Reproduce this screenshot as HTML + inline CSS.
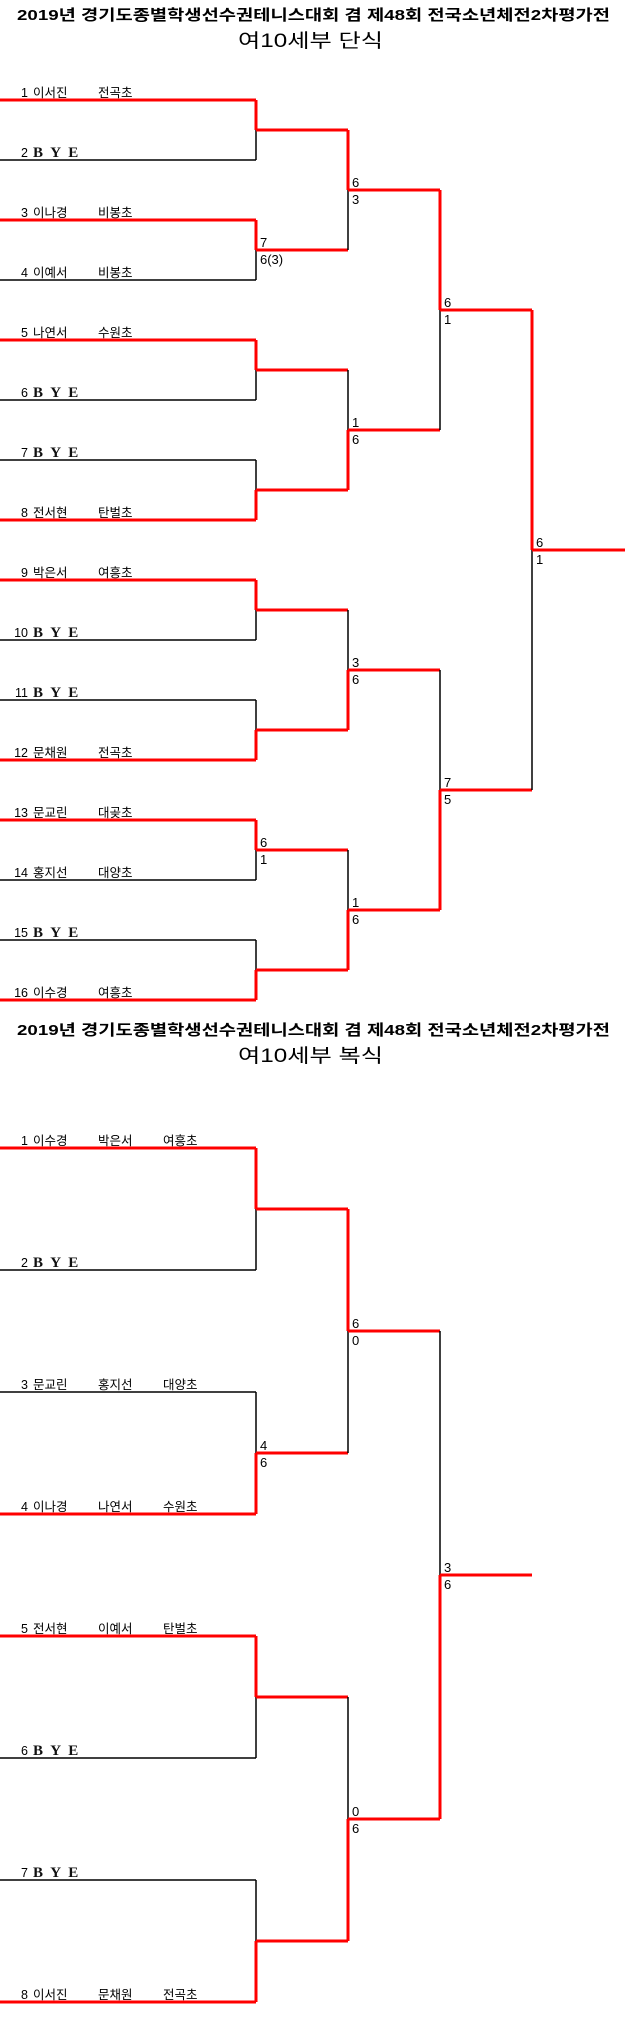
<!DOCTYPE html>
<html><head><meta charset="utf-8"><style>
html,body{margin:0;padding:0;background:#fff;}
svg{display:block;}
text{font-family:"Liberation Sans","Noto Sans CJK KR",sans-serif;fill:#000;}
.n{font-size:12.5px;}
.s{font-size:13px;}
.bye text{font-family:"Liberation Serif","Noto Serif CJK SC",serif;font-size:15px;font-weight:bold;letter-spacing:2px;fill:#111;}
.t1{font-size:15px;font-weight:bold;}
.t2{font-size:19px;}
.k{stroke:#000;stroke-width:1.5;fill:none;}
.r{stroke:#f00;stroke-width:3;fill:none;}
</style></head><body>
<svg width="625" height="2031" viewBox="0 0 625 2031" xmlns="http://www.w3.org/2000/svg">
<text class="t1" x="17" y="20" textLength="593" lengthAdjust="spacingAndGlyphs">2019년  경기도종별학생선수권테니스대회 겸 제48회 전국소년체전2차평가전</text>
<text class="t2" x="238" y="47" textLength="145" lengthAdjust="spacingAndGlyphs">여10세부  단식</text>

<path class="r" d="M0 100H256M0 220H256M0 340H256M0 520H256M0 580H256M0 760H256M0 820H256M0 1000H256"/>
<path class="k" d="M0 160H256M0 280H256M0 400H256M0 460H256M0 640H256M0 700H256M0 880H256M0 940H256"/>
<path class="r" d="M256 100V130M256 220V250M256 340V370M256 520V490M256 580V610M256 760V730M256 820V850M256 1000V970"/>
<path class="k" d="M256 130V160M256 250V280M256 370V400M256 490V460M256 610V640M256 730V700M256 850V880M256 970V940"/>
<path class="r" d="M256 130H348M256 250H348M256 370H348M256 490H348M256 610H348M256 730H348M256 850H348M256 970H348"/>
<path class="r" d="M348 130V190M348 490V430M348 730V670M348 970V910"/>
<path class="k" d="M348 190V250M348 430V370M348 670V610M348 910V850"/>
<path class="r" d="M348 190H440M348 430H440M348 670H440M348 910H440"/>
<path class="r" d="M440 190V310M440 910V790"/>
<path class="k" d="M440 310V430M440 790V670"/>
<path class="r" d="M440 310H532M440 790H532"/>
<path class="r" d="M532 310V550"/>
<path class="k" d="M532 550V790"/>
<path class="r" d="M532 550H625"/>

<text class="s" x="260" y="247">7</text><text class="s" x="260" y="264">6(3)</text>
<text class="s" x="260" y="847">6</text><text class="s" x="260" y="864">1</text>
<text class="s" x="352" y="187">6</text><text class="s" x="352" y="204">3</text>
<text class="s" x="352" y="427">1</text><text class="s" x="352" y="444">6</text>
<text class="s" x="352" y="667">3</text><text class="s" x="352" y="684">6</text>
<text class="s" x="352" y="907">1</text><text class="s" x="352" y="924">6</text>
<text class="s" x="444" y="307">6</text><text class="s" x="444" y="324">1</text>
<text class="s" x="444" y="787">7</text><text class="s" x="444" y="804">5</text>
<text class="s" x="536" y="547">6</text><text class="s" x="536" y="564">1</text>

<g class="n">
<text x="28" y="97" text-anchor="end">1</text><text x="33" y="97">이서진</text><text x="98" y="97">전곡초</text>
<text x="28" y="157" text-anchor="end">2</text>
<text x="28" y="217" text-anchor="end">3</text><text x="33" y="217">이나경</text><text x="98" y="217">비봉초</text>
<text x="28" y="277" text-anchor="end">4</text><text x="33" y="277">이예서</text><text x="98" y="277">비봉초</text>
<text x="28" y="337" text-anchor="end">5</text><text x="33" y="337">나연서</text><text x="98" y="337">수원초</text>
<text x="28" y="397" text-anchor="end">6</text>
<text x="28" y="457" text-anchor="end">7</text>
<text x="28" y="517" text-anchor="end">8</text><text x="33" y="517">전서현</text><text x="98" y="517">탄벌초</text>
<text x="28" y="577" text-anchor="end">9</text><text x="33" y="577">박은서</text><text x="98" y="577">여흥초</text>
<text x="28" y="637" text-anchor="end">10</text>
<text x="28" y="697" text-anchor="end">11</text>
<text x="28" y="757" text-anchor="end">12</text><text x="33" y="757">문채원</text><text x="98" y="757">전곡초</text>
<text x="28" y="817" text-anchor="end">13</text><text x="33" y="817">문교린</text><text x="98" y="817">대곶초</text>
<text x="28" y="877" text-anchor="end">14</text><text x="33" y="877">홍지선</text><text x="98" y="877">대양초</text>
<text x="28" y="937" text-anchor="end">15</text>
<text x="28" y="997" text-anchor="end">16</text><text x="33" y="997">이수경</text><text x="98" y="997">여흥초</text>
</g>
<g class="bye">
<text x="33" y="157">B Y E</text><text x="33" y="397">B Y E</text><text x="33" y="457">B Y E</text>
<text x="33" y="637">B Y E</text><text x="33" y="697">B Y E</text><text x="33" y="937">B Y E</text>
</g>

<text class="t1" x="17" y="1035" textLength="593" lengthAdjust="spacingAndGlyphs">2019년  경기도종별학생선수권테니스대회 겸 제48회 전국소년체전2차평가전</text>
<text class="t2" x="238" y="1062" textLength="145" lengthAdjust="spacingAndGlyphs">여10세부  복식</text>

<path class="r" d="M0 1148H256M0 1514H256M0 1636H256M0 2002H256"/>
<path class="k" d="M0 1270H256M0 1392H256M0 1758H256M0 1880H256"/>
<path class="r" d="M256 1148V1209M256 1514V1453M256 1636V1697M256 2002V1941"/>
<path class="k" d="M256 1209V1270M256 1453V1392M256 1697V1758M256 1941V1880"/>
<path class="r" d="M256 1209H348M256 1453H348M256 1697H348M256 1941H348"/>
<path class="r" d="M348 1209V1331M348 1941V1819"/>
<path class="k" d="M348 1331V1453M348 1819V1697"/>
<path class="r" d="M348 1331H440M348 1819H440"/>
<path class="k" d="M440 1331V1575"/>
<path class="r" d="M440 1819V1575M440 1575H532"/>

<text class="s" x="260" y="1450">4</text><text class="s" x="260" y="1467">6</text>
<text class="s" x="352" y="1328">6</text><text class="s" x="352" y="1345">0</text>
<text class="s" x="352" y="1816">0</text><text class="s" x="352" y="1833">6</text>
<text class="s" x="444" y="1572">3</text><text class="s" x="444" y="1589">6</text>

<g class="n">
<text x="28" y="1145" text-anchor="end">1</text><text x="33" y="1145">이수경</text><text x="98" y="1145">박은서</text><text x="163" y="1145">여흥초</text>
<text x="28" y="1267" text-anchor="end">2</text>
<text x="28" y="1389" text-anchor="end">3</text><text x="33" y="1389">문교린</text><text x="98" y="1389">홍지선</text><text x="163" y="1389">대양초</text>
<text x="28" y="1511" text-anchor="end">4</text><text x="33" y="1511">이나경</text><text x="98" y="1511">나연서</text><text x="163" y="1511">수원초</text>
<text x="28" y="1633" text-anchor="end">5</text><text x="33" y="1633">전서현</text><text x="98" y="1633">이예서</text><text x="163" y="1633">탄벌초</text>
<text x="28" y="1755" text-anchor="end">6</text>
<text x="28" y="1877" text-anchor="end">7</text>
<text x="28" y="1999" text-anchor="end">8</text><text x="33" y="1999">이서진</text><text x="98" y="1999">문채원</text><text x="163" y="1999">전곡초</text>
</g>
<g class="bye">
<text x="33" y="1267">B Y E</text><text x="33" y="1755">B Y E</text><text x="33" y="1877">B Y E</text>
</g>
</svg>
</body></html>
